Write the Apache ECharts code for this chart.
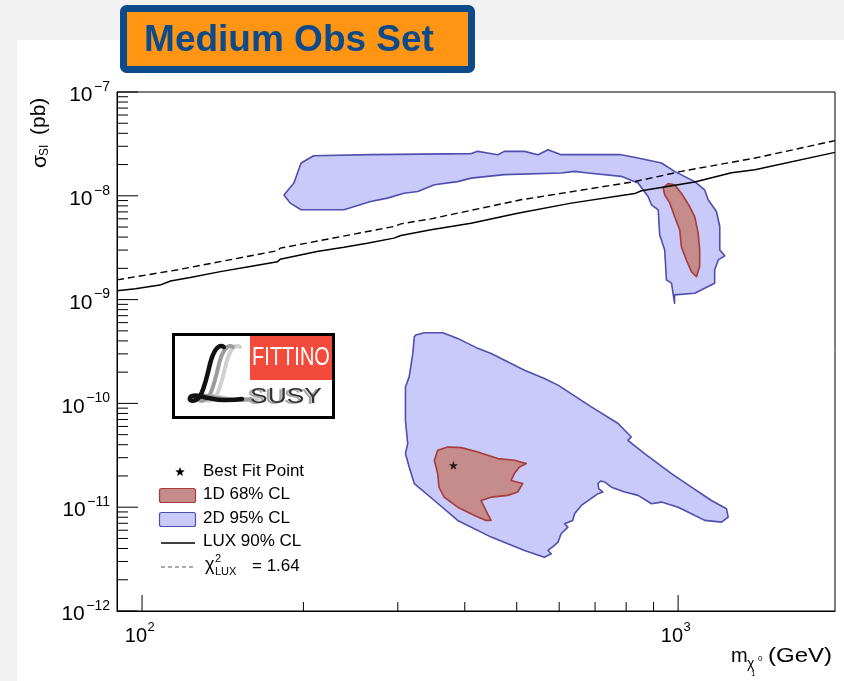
<!DOCTYPE html>
<html><head><meta charset="utf-8">
<script src="https://cdn.jsdelivr.net/npm/echarts@6/dist/echarts.min.js"></script>
<style>html,body{margin:0;padding:0;background:#fff}#c{width:844px;height:681px}</style>
</head><body><div id="c"></div>
<script>
// ---------- axis ranges & ticks ----------
const xMin = 89.8, xMax = 1962;
const yMin = 1e-12, yMax = 1e-7;
const xMajorTicks = [100, 1000];
const xMinorTicks = [200, 300, 400, 500, 600, 700, 800, 900];
const xTickLabels = [['10', '2'], ['10', '3']];
const yMajorTicks = [1e-12, 1e-11, 1e-10, 1e-9, 1e-8, 1e-7];
const yTickLabels = [['10', '\u221212'], ['10', '\u221211'], ['10', '\u221210'], ['10', '\u22129'], ['10', '\u22128'], ['10', '\u22127']];
const yMinorMantissas = [2, 3, 4, 5, 6, 7, 8, 9];
const yMinorDecades = [1e-12, 1e-11, 1e-10, 1e-9, 1e-8];

// ---------- data (m_chi [GeV], sigma_SI [pb]) ----------
const bestFit = [[381, 2.53e-11]];
const luxLimit = [[89.8,1.22e-9],[97.2,1.27e-9],[108,1.38e-9],[113,1.51e-9],[123,1.63e-9],[140,1.86e-9],[159,2.08e-9],[179,2.32e-9],[181,2.45e-9],[212,2.90e-9],[238,3.20e-9],[263,3.49e-9],[295,3.91e-9],[304,4.14e-9],[346,4.70e-9],[411,5.45e-9],[502,6.8e-9],[632,8.50e-9],[830,1.05e-8],[854,1.12e-8],[1074,1.36e-8],[1258,1.67e-8],[1391,1.78e-8],[1962,2.62e-8]];
const luxChi2 = [[89.8,1.55e-9],[116,1.93e-9],[179,2.96e-9],[181,3.13e-9],[295,5.06e-9],[304,5.37e-9],[346,6.00e-9],[509,9.15e-9],[830,1.37e-8],[1014,1.72e-8],[1391,2.31e-8],[1962,3.40e-8]];
const blueUpper = [[184,1.02e-8],[192,1.33e-8],[198,2.07e-8],[209,2.43e-8],[267,2.49e-8],[411,2.55e-8],[423,2.68e-8],[441,2.58e-8],[461,2.49e-8],[474,2.68e-8],[517,2.68e-8],[548,2.49e-8],[572,2.78e-8],[605,2.49e-8],[783,2.49e-8],[842,2.31e-8],[931,2.07e-8],[985,1.72e-8],[1074,1.37e-8],[1121,1.14e-8],[1138,9.15e-9],[1179,7.06e-9],[1196,5.06e-9],[1196,3.01e-9],[1222,2.64e-9],[1188,2.41e-9],[1170,1.93e-9],[1170,1.44e-9],[1074,1.15e-9],[985,1.11e-9],[985,9.21e-10],[972,1.44e-9],[951,1.55e-9],[944,3.01e-9],[924,4.20e-9],[918,7.33e-9],[892,8.19e-9],[879,9.84e-9],[842,1.33e-8],[783,1.54e-8],[679,1.66e-8],[641,1.72e-8],[605,1.66e-8],[474,1.60e-8],[411,1.48e-8],[388,1.37e-8],[351,1.28e-8],[327,1.10e-8],[308,1.06e-8],[287,9.50e-9],[267,8.81e-9],[238,7.33e-9],[198,7.33e-9],[189,8.50e-9]];
const redUpper = [[938,1.19e-8],[958,1.31e-8],[985,1.28e-8],[1014,1.06e-8],[1051,7.88e-9],[1074,6.31e-9],[1090,4.37e-9],[1097,3.01e-9],[1097,2.08e-9],[1082,1.66e-9],[1059,1.86e-9],[1036,2.41e-9],[1014,3.24e-9],[1007,4.70e-9],[985,6.31e-9],[965,8.50e-9],[944,1.02e-8]];
const blueLower = [[324,4.55e-10],[336,4.79e-10],[364,4.79e-10],[388,4.23e-10],[423,3.39e-10],[448,3.03e-10],[517,2.09e-10],[563,1.74e-10],[597,1.50e-10],[689,9.25e-11],[773,6.40e-11],[795,5.51e-11],[818,4.75e-11],[806,4.41e-11],[866,3.28e-11],[972,2.11e-11],[1059,1.56e-11],[1154,1.16e-11],[1231,9.67e-12],[1240,8.02e-12],[1205,7.18e-12],[1121,7.46e-12],[1059,8.66e-12],[1000,1.00e-11],[931,1.12e-11],[892,1.08e-11],[842,1.30e-11],[795,1.40e-11],[751,1.56e-11],[729,1.75e-11],[717,1.79e-11],[709,1.69e-11],[711,1.51e-11],[724,1.40e-11],[709,1.35e-11],[660,1.04e-11],[641,8.66e-12],[636,7.46e-12],[614,6.93e-12],[623,6.42e-12],[605,5.55e-12],[597,4.60e-12],[588,4.28e-12],[572,3.83e-12],[580,3.56e-12],[563,3.30e-12],[517,3.83e-12],[448,5.15e-12],[388,7.46e-12],[351,1.16e-11],[322,1.69e-11],[315,2.44e-11],[310,3.28e-11],[313,4.10e-11],[310,6.88e-11],[310,1.44e-10],[315,1.80e-10],[320,3.03e-10],[322,4.39e-10]];
const redLower = [[356,3.54e-11],[372,3.80e-11],[394,3.75e-11],[423,3.40e-11],[461,2.94e-11],[495,2.83e-11],[521,2.63e-11],[506,2.44e-11],[495,2.11e-11],[488,1.81e-11],[513,1.69e-11],[502,1.40e-11],[481,1.30e-11],[448,1.25e-11],[429,1.16e-11],[441,8.66e-12],[448,7.46e-12],[438,7.46e-12],[417,8.33e-12],[388,1.00e-11],[366,1.25e-11],[358,1.56e-11],[356,2.11e-11],[351,2.83e-11]];

// ---------- styles ----------
const FONT = '"Liberation Sans", Arial, Helvetica, sans-serif';
const BLUE_FILL = '#C9C9FA', BLUE_LINE = '#4F4FAE';
const RED_FILL = '#C68B8B', RED_LINE = '#A63C3C';
const measureCtx = document.createElement('canvas').getContext('2d');
function textW(t, size) { measureCtx.font = size + 'px ' + FONT; return measureCtx.measureText(t).width; }
function txt(t, x, y, size, opts) {
  opts = opts || {};
  return { type: 'text', x: x, y: y, z: 60, silent: true, scaleX: opts.scaleX || 1,
    style: { text: t, font: (opts.style ? opts.style + ' ' : '') + (opts.weight ? opts.weight + ' ' : '') + size + 'px ' + (opts.family || FONT), fill: opts.fill || '#000',
      align: opts.align || 'left', textAlign: opts.align || 'left', verticalAlign: 'middle', textVerticalAlign: 'middle' } };
}

function polygonSeries(name, pts, fill, stroke) {
  return { type: 'custom', name: name, coordinateSystem: 'cartesian2d', silent: true, clip: true,
    data: [pts[0]],
    renderItem: function (params, api) {
      return { type: 'polygon', shape: { points: pts.map(function (p) { return api.coord(p); }) },
        style: { fill: fill, stroke: stroke, lineWidth: 1.6, lineJoin: 'round' } };
    } };
}

const axisSeries = { type: 'custom', name: 'axes', coordinateSystem: 'cartesian2d', silent: true, clip: false, z: 10,
  data: [[xMin, yMin]],
  renderItem: function (params, api) {
    const ch = [];
    function xt(v, len) { const p = api.coord([v, yMin]); ch.push({ type: 'line', shape: { x1: p[0], y1: p[1], x2: p[0], y2: p[1] - len }, style: { stroke: '#000', lineWidth: 1 } }); }
    function yt(v, len) { const p = api.coord([xMin, v]); ch.push({ type: 'line', shape: { x1: p[0], y1: p[1], x2: p[0] + len, y2: p[1] }, style: { stroke: '#000', lineWidth: 1 } }); }
    xMajorTicks.forEach(function (v, i) {
      xt(v, 16);
      const p = api.coord([v, yMin]);
      const w1 = textW(xTickLabels[i][0], 20), w2 = textW(xTickLabels[i][1], 13);
      const left = p[0] - 2.5 - (w1 + w2) / 2;
      ch.push(txt(xTickLabels[i][0], left, p[1] + 25.5, 20));
      ch.push(txt(xTickLabels[i][1], left + w1 + 0.5, p[1] + 16, 13));
    });
    xMinorTicks.forEach(function (v) { xt(v, 9); });
    yMajorTicks.forEach(function (v, i) {
      yt(v, 21);
      const p = api.coord([xMin, v]);
      const right = p[0] - 7;
      const w2 = textW(yTickLabels[i][1], 14);
      ch.push(txt(yTickLabels[i][1], right, p[1] - 5, 14, { align: 'right' }));
      ch.push(txt(yTickLabels[i][0], right - w2 - 1.5, p[1] + 3.5, 21, { align: 'right' }));
    });
    yMinorDecades.forEach(function (d) { yMinorMantissas.forEach(function (m) { yt(m * d, 11); }); });
    return { type: 'group', children: ch };
  } };

const STAR = 'path://M0,-10L2.35,-3.24L9.51,-3.09L3.8,1.24L5.88,8.09L0,4L-5.88,8.09L-3.8,1.24L-9.51,-3.09L-2.35,-3.24Z';
function starPts(cx, cy, r) {
  const pts = [];
  for (let i = 0; i < 10; i++) { const a = -Math.PI / 2 + i * Math.PI / 5; const rr = i % 2 ? r * 0.42 : r; pts.push([cx + rr * Math.cos(a), cy + rr * Math.sin(a)]); }
  return pts;
}
// calligraphic "L" of the logo, as cubic segments [x1,y1,cpx1,cpy1,cpx2,cpy2,x2,y2]
const L_SEGMENTS = [[36,3,30,-1,25,8,22,20],[22,20,19,33,16,46,12,52],[12,52,9,57,3,58,2,55],[2,55,1,52,6,51,11,52],[11,52,20,54,32,58,54,55]];
function logoL(dx, color, w) {
  return { type: 'group', x: 188 + dx, y: 344, z: 58, silent: true,
    children: L_SEGMENTS.map(function (s) {
      return { type: 'bezierCurve', z: 58, shape: { x1: s[0], y1: s[1], cpx1: s[2], cpy1: s[3], cpx2: s[4], cpy2: s[5], x2: s[6], y2: s[7] },
        style: { fill: null, stroke: color, lineWidth: w, lineCap: 'round' } };
    }) };
}

const graphics = [
  // slide background strips
  { type: 'rect', z: -5, shape: { x: 0, y: 0, width: 844, height: 40 }, style: { fill: '#F2F2F2' } },
  { type: 'rect', z: -5, shape: { x: 0, y: 0, width: 17, height: 681 }, style: { fill: '#F2F2F2' } },
  // title box
  { type: 'rect', z: 50, shape: { x: 123.5, y: 8.5, width: 348, height: 61, r: 3 }, style: { fill: '#FF9512', stroke: '#0C4A8A', lineWidth: 7 } },
  txt('Medium Obs Set', 289, 41, 37, { weight: 'bold', fill: '#0C4A8A', align: 'center' }),
  // logo
  { type: 'rect', z: 50, shape: { x: 173.5, y: 334.5, width: 160, height: 83 }, style: { fill: '#fff', stroke: '#000', lineWidth: 3 } },
  { type: 'rect', z: 51, shape: { x: 250, y: 336, width: 82, height: 44 }, style: { fill: '#F24B3B' } },
  txt('FITTINO', 291, 358, 25, { fill: '#fff', align: 'center', scaleX: 0.8 }),
  txt('SUSY', 283, 398, 22, { fill: '#A8A8A8', align: 'center', scaleX: 1.2 }),
  txt('SUSY', 286, 397, 22, { fill: '#333', align: 'center', scaleX: 1.2 }),
  logoL(16, '#D0D0D0', 4),
  logoL(9, '#9C9C9C', 4),
  logoL(0, '#111', 4.5),
  // legend
  { type: 'polygon', shape: { points: starPts(180, 472, 5) }, style: { fill: '#000' } },
  txt('Best Fit Point', 203, 471, 17),
  { type: 'rect', shape: { x: 159.5, y: 488.5, width: 36, height: 14, r: 2 }, style: { fill: RED_FILL, stroke: RED_LINE, lineWidth: 1.2 } },
  txt('1D 68% CL', 203, 494.5, 17),
  { type: 'rect', shape: { x: 159.5, y: 512.5, width: 36, height: 14, r: 2 }, style: { fill: BLUE_FILL, stroke: BLUE_LINE, lineWidth: 1.2 } },
  txt('2D 95% CL', 203, 518, 17),
  { type: 'line', shape: { x1: 161, y1: 543, x2: 195, y2: 543 }, style: { stroke: '#000', lineWidth: 1.5 } },
  txt('LUX 90% CL', 203, 541.5, 17),
  { type: 'line', shape: { x1: 161, y1: 567, x2: 195, y2: 567 }, style: { stroke: '#555', lineWidth: 1.2, lineDash: [4, 3] } },
  txt('\u03C7', 205, 565, 18),
  txt('2', 215, 559, 11),
  txt('LUX', 215, 572, 11),
  txt('= 1.64', 252, 566, 17),
  // y axis title
  { type: 'group', x: 40, y: 168, rotation: Math.PI / 2, children: [
    txt('\u03C3', 0, 0, 21),
    txt('SI', 12, 5, 12),
    txt('(pb)', 33, -1, 21)
  ] },
  // x axis title
  txt('m', 731, 656, 20),
  txt('\u03C7', 747, 664, 14),
  txt('0', 758, 659, 8),
  txt('1', 751, 674, 8),
  txt('(GeV)', 768, 656, 20, { scaleX: 1.2 })
];

const chart = echarts.init(document.getElementById('c'));
chart.setOption({
  animation: false,
  backgroundColor: '#fff',
  grid: { left: 117, right: 9, top: 92, bottom: 70, show: true, borderColor: '#000', borderWidth: 1, backgroundColor: 'transparent' },
  xAxis: { type: 'log', logBase: 10, min: xMin, max: xMax, axisLine: { show: true, lineStyle: { color: '#000', width: 1 } },
    axisTick: { show: false }, axisLabel: { show: false }, splitLine: { show: false }, minorTick: { show: false } },
  yAxis: { type: 'log', logBase: 10, min: yMin, max: yMax, axisLine: { show: true, lineStyle: { color: '#000', width: 1 } },
    axisTick: { show: false }, axisLabel: { show: false }, splitLine: { show: false }, minorTick: { show: false } },
  graphic: graphics,
  series: [
    polygonSeries('2D 95% CL upper', blueUpper, BLUE_FILL, BLUE_LINE),
    polygonSeries('2D 95% CL lower', blueLower, BLUE_FILL, BLUE_LINE),
    polygonSeries('1D 68% CL upper', redUpper, RED_FILL, RED_LINE),
    polygonSeries('1D 68% CL lower', redLower, RED_FILL, RED_LINE),
    { type: 'line', name: 'LUX 90% CL', data: luxLimit, showSymbol: false, silent: true, lineStyle: { color: '#000', width: 1.5 } },
    { type: 'line', name: 'chi2 LUX = 1.64', data: luxChi2, showSymbol: false, silent: true, lineStyle: { color: '#000', width: 1.4, type: [7, 4] } },
    { type: 'scatter', name: 'Best Fit Point', data: bestFit, symbol: STAR, symbolSize: 9, itemStyle: { color: '#000' }, silent: true },
    axisSeries
  ]
});
</script></body></html>
